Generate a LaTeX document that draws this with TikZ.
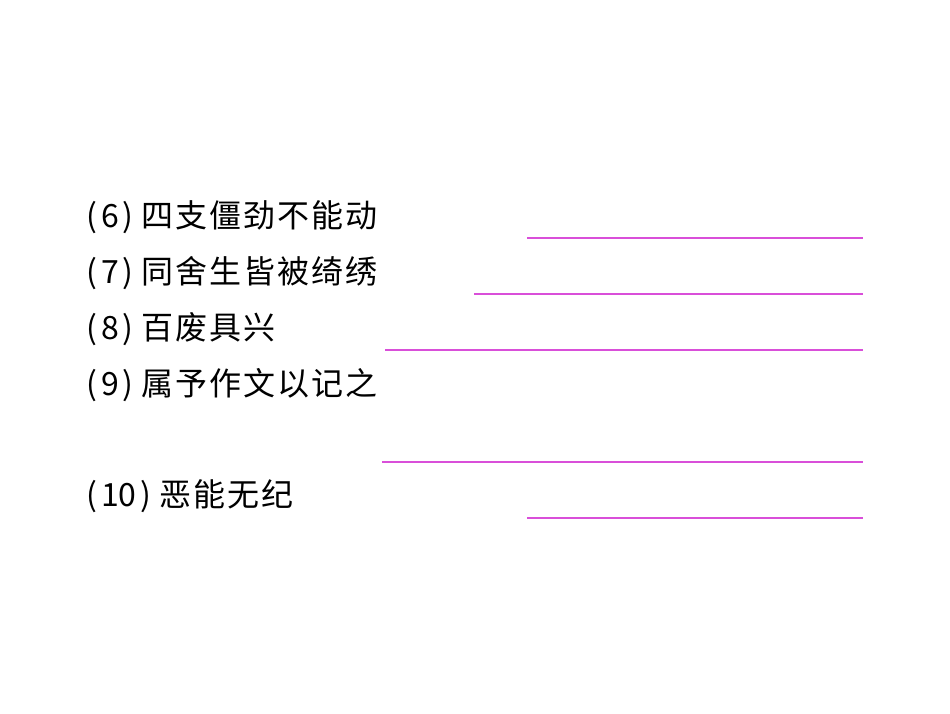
\documentclass[tikz,border=0pt]{standalone}
\usepackage{fontspec}
\newfontfamily\cjk{Noto Sans CJK SC}
\newfontfamily\cjkw[LetterSpace=6]{Noto Sans CJK SC}
\definecolor{ln}{HTML}{D94FD9}
\newcommand{\itm}[2]{(\kern4pt#1\kern4pt)\kern8pt{\cjkw #2}}
\begin{document}
\begin{tikzpicture}[x=1pt,y=-1pt,
  item/.style={anchor=west,inner sep=0pt,font=\cjk\fontsize{32}{36}\selectfont},
  blank/.style={draw=ln,line width=1.2pt}]
\useasboundingbox[fill=white] (0,0) rectangle (950,713);
\node[item] (t6) at (86,217) {\itm{6}{四支僵劲不能动}};
\node[item] (t7) at (86,273) {\itm{7}{同舍生皆被绮绣}};
\node[item] (t8) at (86,329) {\itm{8}{百废具兴}};
\node[item] (t9) at (86,385) {\itm{9}{属予作文以记之}};
\node[item] (t10) at (86,496) {\itm{10}{恶能无纪}};
\coordinate (a6) at (527,238); \coordinate (b6) at (863,238);
\coordinate (a7) at (474,294); \coordinate (b7) at (863,294);
\coordinate (a8) at (385,350); \coordinate (b8) at (863,350);
\coordinate (a9) at (382,462); \coordinate (b9) at (863,462);
\coordinate (a10) at (527,518); \coordinate (b10) at (863,518);
\foreach \i in {6,7,8,9,10} \draw[blank] (a\i) -- (b\i);
\end{tikzpicture}
\end{document}
